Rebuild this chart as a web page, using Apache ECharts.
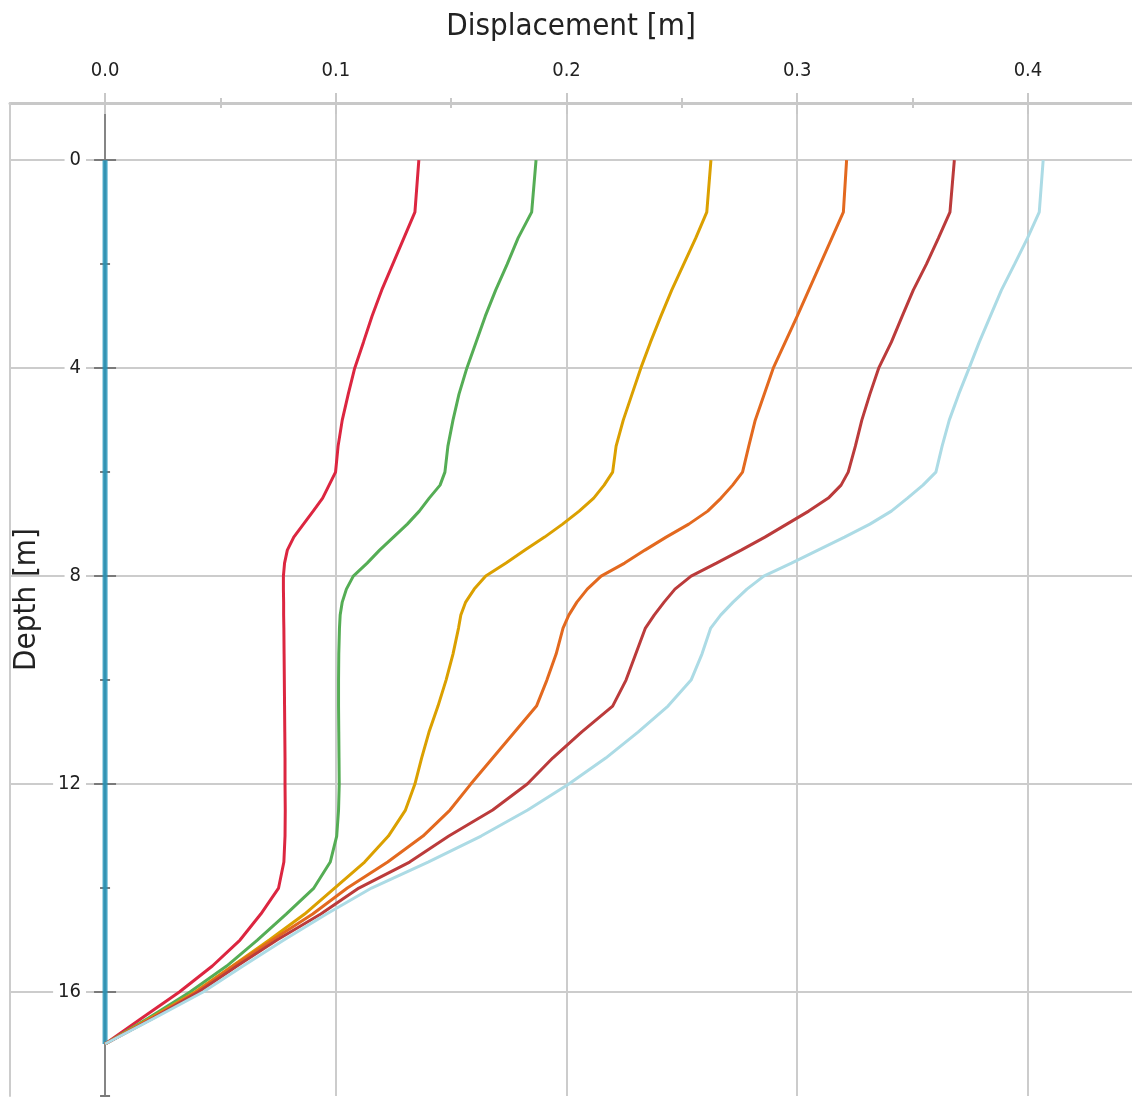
<!DOCTYPE html>
<html>
<head>
<meta charset="utf-8">
<title>Displacement vs depth</title>
<script src="https://cdn.jsdelivr.net/npm/echarts@6/dist/echarts.min.js"></script>
<style>
  html, body { margin: 0; padding: 0; background: #ffffff; }
  #chart { width: 1132px; height: 1098px; }
</style>
</head>
<body>
<div id="chart"></div>
<script>
// Depth of each profile point [m]
const depth = [0, 1, 1.5, 2, 2.5, 3, 3.5, 4, 4.5, 5, 5.5, 6, 6.25, 6.5, 6.75, 7, 7.25, 7.5, 7.75, 8,
  8.25, 8.5, 8.75, 9, 9.5, 10, 10.5, 11, 11.5, 12, 12.5, 13, 13.5, 14, 14.5, 15, 15.5, 16, 16.5, 17];

// Horizontal displacement [m] of each stage, one value per depth
const stage0 = [0, 0, 0, 0, 0, 0, 0, 0, 0, 0, 0, 0, 0, 0, 0, 0, 0, 0, 0, 0,
  0, 0, 0, 0, 0, 0, 0, 0, 0, 0, 0, 0, 0, 0, 0, 0, 0, 0, 0, 0];
const stage1 = [0.1360, 0.1343, 0.1295, 0.1247, 0.1199, 0.1157, 0.1120, 0.1082, 0.1054, 0.1028,
  0.1010, 0.0999, 0.0971, 0.0943, 0.0902, 0.0860, 0.0818, 0.0790, 0.0778, 0.0773,
  0.0773, 0.0774, 0.0774, 0.0775, 0.0776, 0.0777, 0.0778, 0.0779, 0.0780, 0.0780,
  0.0781, 0.0780, 0.0775, 0.0752, 0.0675, 0.0585, 0.0465, 0.0322, 0.0160, 0];
const stage2 = [0.1868, 0.1849, 0.1790, 0.1743, 0.1693, 0.1648, 0.1608, 0.1568, 0.1534, 0.1508,
  0.1486, 0.1473, 0.1452, 0.1405, 0.1362, 0.1310, 0.1250, 0.1190, 0.1136, 0.1076,
  0.1046, 0.1028, 0.1019, 0.1016, 0.1013, 0.1012, 0.1012, 0.1013, 0.1014, 0.1015,
  0.1012, 0.1004, 0.0976, 0.0905, 0.0785, 0.0660, 0.0527, 0.0368, 0.0188, 0];
const stage3 = [0.2626, 0.2608, 0.2560, 0.2508, 0.2456, 0.2409, 0.2364, 0.2322, 0.2284, 0.2246,
  0.2215, 0.2200, 0.2163, 0.2118, 0.2055, 0.1983, 0.1905, 0.1820, 0.1738, 0.1650,
  0.1600, 0.1563, 0.1542, 0.1532, 0.1508, 0.1478, 0.1443, 0.1404, 0.1372, 0.1343,
  0.1302, 0.1228, 0.1125, 0.0995, 0.0865, 0.0712, 0.0552, 0.0390, 0.0198, 0];
const stage4 = [0.3214, 0.3200, 0.3150, 0.3100, 0.3050, 0.3000, 0.2948, 0.2896, 0.2857, 0.2818,
  0.2790, 0.2763, 0.2720, 0.2670, 0.2612, 0.2530, 0.2432, 0.2340, 0.2252, 0.2150,
  0.2090, 0.2045, 0.2010, 0.1985, 0.1955, 0.1915, 0.1870, 0.1775, 0.1680, 0.1585,
  0.1495, 0.1378, 0.1225, 0.1050, 0.0900, 0.0725, 0.0555, 0.0395, 0.0203, 0];
const stage5 = [0.3681, 0.3662, 0.3612, 0.3560, 0.3503, 0.3455, 0.3408, 0.3353, 0.3315, 0.3280,
  0.3252, 0.3221, 0.3190, 0.3135, 0.3050, 0.2955, 0.2860, 0.2757, 0.2650, 0.2540,
  0.2470, 0.2423, 0.2380, 0.2342, 0.2300, 0.2258, 0.2200, 0.2065, 0.1940, 0.1830,
  0.1680, 0.1490, 0.1320, 0.1100, 0.0935, 0.0745, 0.0572, 0.0405, 0.0210, 0];
const stage6 = [0.4066, 0.4049, 0.3998, 0.3942, 0.3885, 0.3837, 0.3789, 0.3745, 0.3700, 0.3659,
  0.3628, 0.3601, 0.3545, 0.3478, 0.3408, 0.3315, 0.3205, 0.3090, 0.2975, 0.2855,
  0.2782, 0.2722, 0.2668, 0.2625, 0.2587, 0.2540, 0.2440, 0.2310, 0.2170, 0.2010,
  0.1832, 0.1630, 0.1400, 0.1155, 0.0960, 0.0775, 0.0598, 0.0425, 0.0215, 0];

// Tick positions
const xMajorTicks = [0, 0.1, 0.2, 0.3, 0.4];
const xMinorTicks = [0.05, 0.15, 0.25, 0.35];
const yMajorTicks = [0, 4, 8, 12, 16];
const yMinorTicks = [2, 6, 10, 14, 18];

const stages = [stage0, stage1, stage2, stage3, stage4, stage5, stage6];
const stageColors = ['rgba(38,148,184,0.85)', '#dc2640', '#55ad55', '#dba000', '#e3691f', '#bb3b3b', '#acdbe5'];

const X_MIN = -0.0412, X_MAX = 0.4451;
const Y_MIN = -1.1, Y_MAX = 18;
const FONT = "'DejaVu Sans Condensed', 'DejaVu Sans', sans-serif";

// Extra axes that only draw tick marks (both sides of the axis line)
function xTickAxis(values, inside, len) {
  return {
    type: 'value', position: 'top', min: X_MIN, max: X_MAX,
    axisLine: { show: false, onZero: false },
    axisTick: { show: true, inside: inside, length: len, customValues: values,
      lineStyle: { color: '#c8c8c8', width: 2 } },
    axisLabel: { show: false }, splitLine: { show: false }
  };
}
function yTickAxis(values, inside, len) {
  return {
    type: 'value', position: 'left', inverse: true, min: Y_MIN, max: Y_MAX,
    axisLine: { show: false, onZero: true, onZeroAxisIndex: 0 },
    axisTick: { show: true, inside: inside, length: len, customValues: values,
      lineStyle: { color: '#7a7a7a', width: 2 } },
    axisLabel: { show: false }, splitLine: { show: false }
  };
}

const chart = echarts.init(document.getElementById('chart'), null, { renderer: 'canvas' });

const option = {
  animation: false,
  backgroundColor: '#ffffff',
  textStyle: { fontFamily: FONT },
  grid: { left: 10, right: 0, top: 103, bottom: 2, containLabel: false, outerBoundsMode: 'none' },
  xAxis: [
    {
      type: 'value', position: 'top', min: X_MIN, max: X_MAX,
      name: 'Displacement [m]', nameLocation: 'middle', nameGap: 61,
      nameTextStyle: { fontSize: 31, color: '#222', fontFamily: FONT },
      axisLine: { show: true, onZero: false, lineStyle: { color: '#c8c8c8', width: 3 } },
      axisTick: { show: true, inside: false, length: 10, customValues: xMajorTicks,
        lineStyle: { color: '#c8c8c8', width: 2 } },
      axisLabel: { show: true, customValues: xMajorTicks, margin: 22, fontSize: 20, color: '#222',
        fontFamily: FONT, formatter: v => v.toFixed(1) },
      splitLine: { show: true, lineStyle: { color: '#cccccc', width: 2 } }
    },
    xTickAxis(xMajorTicks, true, 11),
    xTickAxis(xMinorTicks, false, 5),
    xTickAxis(xMinorTicks, true, 5)
  ],
  yAxis: [
    {
      // depth axis crossing the displacement axis at zero
      type: 'value', position: 'left', inverse: true, min: Y_MIN, max: Y_MAX,
      axisLine: { show: true, onZero: true, onZeroAxisIndex: 0, lineStyle: { color: '#858585', width: 2 } },
      axisTick: { show: true, inside: false, length: 11, customValues: yMajorTicks,
        lineStyle: { color: '#7a7a7a', width: 2 } },
      axisLabel: { show: false },
      splitLine: { show: true, lineStyle: { color: '#cccccc', width: 2 } }
    },
    yTickAxis(yMajorTicks, true, 11),
    yTickAxis(yMinorTicks, false, 5),
    yTickAxis(yMinorTicks, true, 5),
    {
      // left frame line, carrying the depth labels and the axis title
      type: 'value', position: 'left', inverse: true, min: Y_MIN, max: Y_MAX, z: 3,
      name: 'Depth [m]', nameLocation: 'middle', nameGap: -32, nameMoveOverlap: false,
      nameTextStyle: { fontSize: 31, color: '#222', fontFamily: FONT },
      axisLine: { show: true, onZero: false, lineStyle: { color: '#cccccc', width: 2 } },
      axisTick: { show: false },
      axisLabel: { show: true, inside: true, align: 'right', customValues: yMajorTicks, margin: 76,
        fontSize: 20, color: '#222', fontFamily: FONT, backgroundColor: '#ffffff', padding: [2, 5, 2, 5] },
      splitLine: { show: false }
    }
  ],
  series: stages.map((vals, i) => ({
    type: 'line',
    xAxisIndex: 0,
    yAxisIndex: 0,
    data: depth.map((d, k) => [vals[k], d]),
    showSymbol: false,
    symbol: 'none',
    smooth: false,
    lineStyle: { color: stageColors[i], width: i === 0 ? 5 : 3 },
    itemStyle: { color: stageColors[i] },
    z: 2 + i * 0.01
  }))
};

chart.setOption(option);
</script>
</body>
</html>
